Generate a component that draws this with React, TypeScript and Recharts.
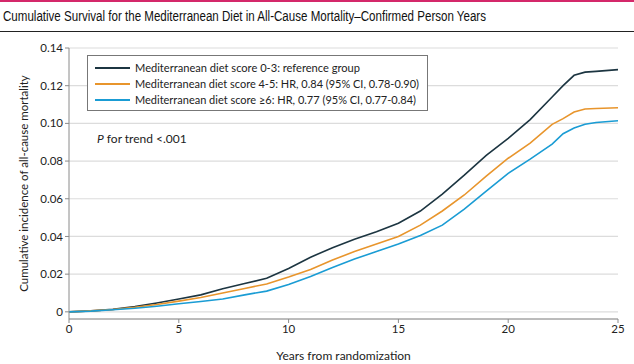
import {
  CartesianGrid,
  Label,
  Line,
  LineChart,
  XAxis,
  YAxis
} from "recharts";

const years = [0, 1, 2, 3, 4, 5, 6, 7, 8, 9, 10, 11, 12, 13, 14, 15, 16, 17, 18, 19, 20, 21, 22, 22.5, 23, 23.5, 24, 25];
const lowScore = [0, 0.0005, 0.0013, 0.0028, 0.0047, 0.0068, 0.009, 0.0122, 0.015, 0.0178, 0.023, 0.029, 0.034, 0.0385, 0.0425, 0.047, 0.0535, 0.0625, 0.0725, 0.083, 0.092, 0.102, 0.114, 0.12, 0.1255, 0.1272, 0.1276, 0.1285];
const midScore = [0, 0.0005, 0.0012, 0.0024, 0.0039, 0.0057, 0.0076, 0.01, 0.0124, 0.0148, 0.0185, 0.0225, 0.0275, 0.032, 0.036, 0.04, 0.046, 0.0535, 0.062, 0.072, 0.0815, 0.0895, 0.0995, 0.1025, 0.106, 0.1076, 0.1079, 0.1083];
const highScore = [0, 0.0004, 0.0011, 0.0019, 0.003, 0.0043, 0.0055, 0.0068, 0.009, 0.011, 0.0145, 0.0188, 0.0235, 0.028, 0.032, 0.036, 0.0405, 0.046, 0.0545, 0.064, 0.0735, 0.081, 0.089, 0.0945, 0.0975, 0.0995, 0.1005, 0.1014];

const xTicks = [0, 5, 10, 15, 20, 25];
const yTicks = [0, 0.02, 0.04, 0.06, 0.08, 0.1, 0.12, 0.14];

const seriesNames = [
  "Mediterranean diet score 0-3: reference group",
  "Mediterranean diet score 4-5: HR, 0.84 (95% CI, 0.78-0.90)",
  "Mediterranean diet score \u22656: HR, 0.77 (95% CI, 0.77-0.84)"
];
const colors = ["#1c3541", "#e8952c", "#1a9cd4"];

const chartData = years.map((year, i) => ({
  year,
  low: lowScore[i],
  mid: midScore[i],
  high: highScore[i]
}));

const FONT = "Lato, 'Open Sans', sans-serif";
// rough text widths measured off the reference, so the rows line up
const rowWidths = [225, 284, 281];
const TITLE_SQUEEZE = 0.76;

const App = () => {
  return (
    <div
      style={{
        position: "absolute",
        left: 0,
        top: 0,
        width: 634,
        height: 364,
        background: "#fff",
        overflow: "hidden",
        fontFamily: FONT
      }}
    >
      <svg width={634} height={40} style={{ position: "absolute", left: 0, top: 0 }}>
        <rect x={0} y={0} width={634} height={2} fill="#d4286a" />
        <g transform={`scale(${TITLE_SQUEEZE},1)`}>
          <text
            x={3 / TITLE_SQUEEZE}
            y={21}
            fontSize={15.5}
            fill="#111"
            fontFamily="'Liberation Sans', Arial, sans-serif"
            textLength={483 / TITLE_SQUEEZE}
            lengthAdjust="spacingAndGlyphs"
          >
            Cumulative Survival for the Mediterranean Diet in All-Cause Mortality–Confirmed Person Years
          </text>
        </g>
        <rect x={0} y={31} width={634} height={1} fill="#222" />
      </svg>

      <LineChart
        width={634}
        height={364}
        data={chartData}
        margin={{ top: 48, right: 16, bottom: 0, left: 0 }}
        style={{ position: "absolute", left: 0, top: 0 }}
      >
        <CartesianGrid vertical={false} stroke="#dcdcdc" strokeWidth={1.2} />
        <XAxis
          dataKey="year"
          type="number"
          domain={[0, 25]}
          ticks={xTicks}
          height={45}
          tickSize={4}
          stroke="#8a8a8a"
          tick={{ fill: "#222", fontSize: 11.5, fontFamily: FONT }}
        >
          <Label
            value="Years from randomization"
            position="insideBottom"
            offset={4}
            style={{ fill: "#222", fontSize: 12, fontFamily: FONT }}
          />
        </XAxis>
        <YAxis
          type="number"
          domain={[-0.0038, 0.14]}
          ticks={yTicks}
          width={69}
          tickSize={4}
          stroke="#8a8a8a"
          tickFormatter={(v: number) => (v === 0 ? "0" : v.toFixed(2))}
          tick={{ fill: "#222", fontSize: 11.5, fontFamily: FONT }}
        >
          <Label
            value="Cumulative incidence of all-cause mortality"
            angle={-90}
            position="insideLeft"
            offset={24}
            style={{ textAnchor: "middle", fill: "#222", fontSize: 11.5, fontFamily: FONT }}
          />
        </YAxis>
        <Line type="linear" dataKey="low" stroke={colors[0]} strokeWidth={1.6} dot={false} isAnimationActive={false} />
        <Line type="linear" dataKey="mid" stroke={colors[1]} strokeWidth={1.6} dot={false} isAnimationActive={false} />
        <Line type="linear" dataKey="high" stroke={colors[2]} strokeWidth={1.6} dot={false} isAnimationActive={false} />
      </LineChart>

      <svg width={345} height={60} style={{ position: "absolute", left: 86, top: 54 }}>
        <rect x={1.5} y={1.5} width={340} height={55} fill="#fff" stroke="#777" strokeWidth={1} />
        {seriesNames.map((name, i) => (
          <g key={name}>
            <line x1={9} x2={44} y1={14 + i * 16} y2={14 + i * 16} stroke={colors[i]} strokeWidth={2} />
            <text
              x={49}
              y={18 + i * 16}
              fontSize={11}
              fill="#222"
              fontFamily={FONT}
              textLength={rowWidths[i]}
              lengthAdjust="spacingAndGlyphs"
            >
              {name}
            </text>
          </g>
        ))}
      </svg>

      <div style={{ position: "absolute", left: 97, top: 131, fontSize: 12, color: "#222", whiteSpace: "nowrap" }}>
        <i>P</i> for trend &lt;.001
      </div>
    </div>
  );
};

export default App;
